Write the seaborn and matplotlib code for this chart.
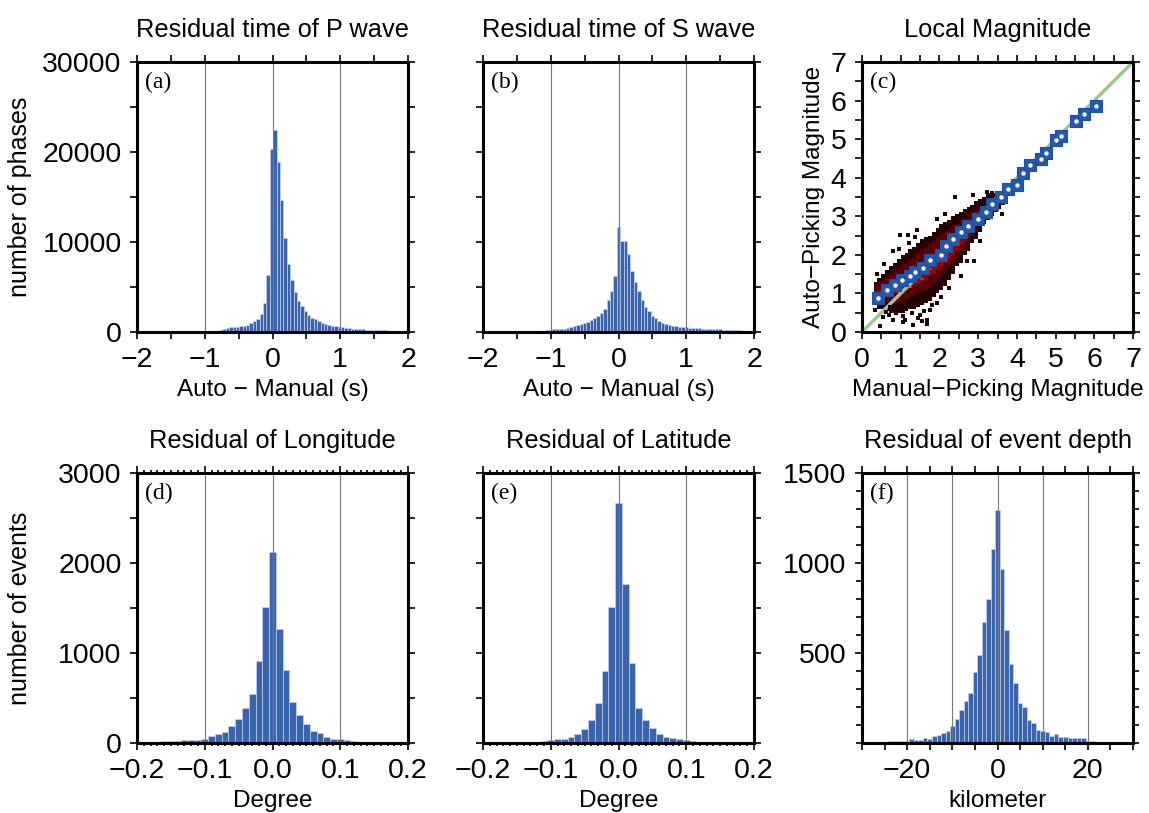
import numpy as np
import pandas as pd
import matplotlib.pyplot as plt
import seaborn as sns
from matplotlib.ticker import MultipleLocator, FixedLocator

# ---- (a) residual time of P wave, bins of 0.05 s
p_edges = -0.04 + 0.05 * np.arange(-20, 41)
p_centers = p_edges[:-1] + 0.025
p_counts = [20, 20, 20, 50, 100, 200, 330, 450, 500, 550,
            600, 630, 700, 800, 1000, 1200, 1400, 2000, 3200, 6300,
            20300, 22400, 18900, 14700, 10400, 7600, 5800, 4400, 3400, 2900,
            2300, 1900, 1600, 1400, 1200, 1000, 900, 800, 700, 630,
            550, 500, 450, 400, 360, 330, 310, 290, 270, 250,
            240, 220, 200, 190, 180, 160, 150, 140, 130, 120]

# ---- (b) residual time of S wave
s_edges = 0.05 * np.arange(-25, 41) - 0.025
s_centers = s_edges[:-1] + 0.025
s_counts = [30, 60, 100, 150, 200, 260, 290, 320, 340, 370,
            450, 600, 680, 800, 900, 1000, 1150, 1300, 1600, 1800,
            2100, 2500, 3500, 4600, 6200,
            11700, 10100, 10100, 8700, 6800, 5600, 4500, 3600, 2800, 2300,
            1800, 1500, 1200, 1000, 900, 780, 700, 630, 590, 550,
            520, 490, 460, 430, 400, 380, 360, 340, 320, 300,
            280, 260, 240, 220, 200, 190, 180, 160, 150, 140]

# ---- (c) local magnitude: binned means
mag_manual = [0.41, 0.65, 0.85, 1.04, 1.24, 1.38, 1.58, 1.75, 2.03, 2.17,
              2.36, 2.56, 2.75, 2.99, 3.20, 3.35, 3.58, 3.78, 4.00, 4.17,
              4.34, 4.63, 4.76, 5.01, 5.15, 5.54, 5.73, 6.05]
mag_auto = [0.89, 1.08, 1.23, 1.35, 1.44, 1.55, 1.66, 1.86, 2.00, 2.24,
            2.42, 2.58, 2.76, 2.93, 3.11, 3.32, 3.49, 3.70, 3.82, 4.12,
            4.34, 4.49, 4.64, 4.98, 5.09, 5.46, 5.65, 5.87]

# density cloud, one column per 0.1 magnitude
cloud_x = [0.3, 0.4, 0.5, 0.6, 0.7, 0.8, 0.9, 1.0, 1.1, 1.2, 1.3, 1.4,
           1.5, 1.6, 1.7, 1.8, 1.9, 2.0, 2.1, 2.2, 2.3, 2.4, 2.5, 2.6,
           2.7, 2.8, 2.9, 3.0, 3.1, 3.2, 3.3, 3.4, 3.5, 3.6]
outer_lo = [0.7, 0.6, 0.6, 0.55, 0.5, 0.5, 0.5, 0.5, 0.55, 0.6, 0.6, 0.65,
            0.7, 0.75, 0.8, 0.9, 1.0, 1.1, 1.2, 1.35, 1.5, 1.7, 1.8, 2.0,
            2.1, 2.3, 2.4, 2.6, 2.8, 2.9, 3.0, 3.1, 3.2, 3.3]
outer_hi = [1.3, 1.4, 1.5, 1.6, 1.7, 1.8, 1.9, 2.0, 2.05, 2.15, 2.2, 2.3,
            2.4, 2.45, 2.5, 2.6, 2.7, 2.8, 2.85, 2.9, 3.0, 3.05, 3.1, 3.2,
            3.25, 3.3, 3.4, 3.45, 3.5, 3.6, 3.65, 3.6, 3.55, 3.5]
dense_lo = [0.8, 0.75, 0.75, 0.75, 0.75, 0.75, 0.75, 0.8, 0.85, 0.9, 0.95, 1.0,
            1.05, 1.1, 1.15, 1.25, 1.35, 1.45, 1.55, 1.7, 1.8, 1.95, 2.1, 2.2,
            2.35, 2.5, 2.6, 2.75, 2.9, 3.0, 3.1, 3.25, 3.3, 3.4]
dense_hi = [1.2, 1.3, 1.35, 1.4, 1.5, 1.55, 1.65, 1.75, 1.8, 1.9, 1.95, 2.05,
            2.15, 2.2, 2.3, 2.35, 2.45, 2.55, 2.6, 2.65, 2.75, 2.8, 2.9, 2.95,
            3.05, 3.1, 3.15, 3.25, 3.3, 3.4, 3.45, 3.5, 3.5, 3.45]
core_lo = [0.85, 0.85, 0.9, 0.9, 0.95, 1.0, 1.0, 1.05, 1.1, 1.15, 1.2, 1.25,
           1.3, 1.35, 1.45, 1.5, 1.6, 1.7, 1.8, 1.9, 2.0, 2.1, 2.25, 2.35,
           2.5, 2.6, 2.75, 9, 9, 9, 9, 9, 9, 9]
core_hi = [1.05, 1.1, 1.15, 1.2, 1.25, 1.3, 1.35, 1.45, 1.5, 1.55, 1.6, 1.7,
           1.75, 1.8, 1.9, 1.95, 2.05, 2.1, 2.2, 2.3, 2.4, 2.5, 2.55, 2.65,
           2.75, 2.85, 2.95, 0, 0, 0, 0, 0, 0, 0]
hot_x = [0.95, 1.15, 1.25, 1.35, 1.45, 1.55, 1.65, 1.75, 1.95, 2.05, 2.25]
hot_y = [1.025, 1.225, 1.175, 1.325, 1.425, 1.375, 1.525, 1.625, 1.825,
         1.925, 2.075]
hot_w = [4.2, 4.2, 4.2, 5.5, 4.2, 4.2, 5.5, 4.2, 4.2, 4.2, 4.2]
stray_x = [2.40, 2.88, 3.61, 2.89, 0.47, 0.80, 1.06, 1.32, 1.54, 1.67, 1.67,
           0.54, 0.89, 1.28, 1.50, 1.75, 1.94, 0.33, 0.72, 0.98, 1.19, 0.79,
           1.41, 1.94, 3.22, 3.48, 1.10, 0.62, 0.40, 0.58, 0.95, 1.22, 1.38,
           1.60, 1.82, 2.05, 2.25, 2.55, 0.70, 1.05, 1.45, 2.70, 3.05, 2.15]
stray_y = [3.51, 3.56, 3.06, 1.83, 0.16, 0.32, 0.41, 0.19, 0.28, 0.22, 0.32,
           0.40, 0.49, 0.49, 0.45, 0.58, 0.75, 0.58, 0.66, 2.52, 2.52, 2.09,
           2.65, 2.93, 3.62, 3.26, 0.30, 0.52, 1.50, 1.75, 2.15, 2.30, 2.45,
           0.55, 0.70, 0.90, 1.15, 1.45, 0.45, 0.25, 0.35, 1.85, 2.35, 3.05]

# ---- (d) longitude, (e) latitude, bins of 0.01 degree
deg_edges = 0.01 * np.arange(-19, 21) - 0.005
deg_centers = deg_edges[:-1] + 0.005
lon_counts = [4, 7, 10, 18, 22, 26, 30, 35, 37, 50, 74, 97, 123, 186, 271, 390,
              550, 913, 1515, 2117, 1266, 810, 457, 316, 215, 130, 111, 67, 45,
              40, 37, 22, 15, 10, 8, 6, 5, 4, 3]
lat_counts = [3, 4, 5, 6, 8, 10, 12, 15, 22, 33, 48, 48, 70, 96, 152, 256,
              448, 804, 1515, 2663, 1767, 893, 393, 256, 167, 96, 70, 59, 48,
              30, 26, 15, 7, 5, 4, 3, 2, 2, 1]

# ---- (f) depth, bins of 1 km
dep_edges = np.arange(-29, 31) - 0.5
dep_centers = dep_edges[:-1] + 0.5
dep_counts = [0, 3, 5, 8, 6, 10, 11, 12, 10, 11, 22, 19, 19, 30, 22, 37, 43,
              56, 65, 93, 135, 181, 231, 278, 394, 491, 670, 802, 1080, 1296,
              967, 630, 437, 333, 222, 200, 130, 111, 74, 69, 61, 41, 50, 33,
              31, 30, 28, 30, 27, 12, 10, 8, 6, 5, 4, 3, 2, 2, 1]

bar_color = '#3b64ae'
edge_color = '#c4d2ec'

sns.set_style('ticks')
plt.rcParams['font.family'] = ['Liberation Sans', 'DejaVu Sans']
plt.rcParams['axes.linewidth'] = 2.0
plt.rcParams['axes.edgecolor'] = 'black'
for key in ['text.color', 'axes.labelcolor', 'xtick.color', 'ytick.color']:
    plt.rcParams[key] = 'black'

fig = plt.figure(figsize=(11.49, 8.13), dpi=100)
W, H = 1149, 813


def add_axes(left, top):
    return fig.add_axes([left / W, 1 - (top + 270) / H, 271 / W, 270 / H])


ax_a = add_axes(137, 62)
ax_b = add_axes(483, 62)
ax_c = add_axes(862, 62)
ax_d = add_axes(137, 473)
ax_e = add_axes(483, 473)
ax_f = add_axes(862, 473)


def hist(ax, centers, counts, edges):
    df = pd.DataFrame({'v': np.asarray(centers, dtype=float),
                       'n': np.asarray(counts, dtype=float)})
    sns.histplot(data=df, x='v', weights='n', bins=[float(e) for e in edges],
                 color=bar_color, edgecolor=edge_color, linewidth=0.5,
                 alpha=1, ax=ax)


def frame(ax, title, tag, xlabel, ylabel, ylab_x, grid):
    ax.set_title(title, fontsize=18.3, pad=18)
    ax.text(0.03, 0.965, tag, transform=ax.transAxes, ha='left', va='top',
            fontsize=17, family='Liberation Serif')
    ax.set_xlabel(xlabel, fontsize=17.5)
    ax.xaxis.set_label_coords(0.5, -0.175)
    ax.set_ylabel(ylabel, fontsize=18)
    if ylabel:
        ax.yaxis.set_label_coords(ylab_x, 0.5)
    for g in grid:
        ax.axvline(g, color='#777777', lw=0.8, zorder=3)
    ax.tick_params(which='both', direction='out', top=True, right=True,
                   width=1.2, labelsize=20.5, pad=6, color='black')
    ax.tick_params(which='major', length=5)
    ax.tick_params(which='minor', length=5)
    for s in ax.spines.values():
        s.set_linewidth(2.2)
        s.set_zorder(5)


# (a)
hist(ax_a, p_centers, p_counts, p_edges)
ax_a.set_xlim(-2, 2)
ax_a.set_ylim(0, 30000)
ax_a.xaxis.set_major_locator(MultipleLocator(1))
ax_a.xaxis.set_minor_locator(MultipleLocator(0.5))
ax_a.yaxis.set_major_locator(MultipleLocator(10000))
ax_a.yaxis.set_minor_locator(MultipleLocator(5000))
frame(ax_a, 'Residual time of P wave', '(a)', 'Auto \u2212 Manual (s)',
      'number of phases', -0.387, [-1, 0, 1])

# (b)
hist(ax_b, s_centers, s_counts, s_edges)
ax_b.set_xlim(-2, 2)
ax_b.set_ylim(0, 30000)
ax_b.xaxis.set_major_locator(MultipleLocator(1))
ax_b.xaxis.set_minor_locator(MultipleLocator(0.5))
ax_b.yaxis.set_major_locator(MultipleLocator(10000))
ax_b.yaxis.set_minor_locator(MultipleLocator(5000))
ax_b.set_yticklabels([])
frame(ax_b, 'Residual time of S wave', '(b)', 'Auto \u2212 Manual (s)',
      '', 0, [-1, 0, 1])

# (c)
y_centers = np.round(np.arange(0.025, 4.0, 0.05), 3)
cells = {}
for i, x0 in enumerate(cloud_x):
    for yc in y_centers:
        w = 0
        if outer_lo[i] <= yc <= outer_hi[i]:
            w = 0.4
        if dense_lo[i] <= yc <= dense_hi[i]:
            w = 1.2
        if core_lo[i] <= yc <= core_hi[i]:
            w = 2.2
        if w > 0:
            cells[(round(x0 + 0.05, 2), yc)] = w
for hx, hy, hw in zip(hot_x, hot_y, hot_w):
    cells[(hx, hy)] = hw
cloud = pd.DataFrame([(k[0], k[1], v) for k, v in cells.items()],
                     columns=['x', 'y', 'w'])
sns.histplot(data=cloud, x='x', y='y', weights='w',
             bins=[list(np.round(np.arange(0.3, 3.75, 0.1), 2)),
                   list(np.round(np.arange(0.0, 4.025, 0.05), 3))],
             cmap='hot', vmin=0, vmax=10, ax=ax_c, zorder=1)
sns.lineplot(x=[0, 7], y=[0, 7], color='#9cc78e', lw=2.5, ax=ax_c, zorder=2)
sns.scatterplot(x=stray_x, y=stray_y, color='#1a0500', marker='s', s=5,
                linewidth=0, ax=ax_c, zorder=2)
sns.scatterplot(x=mag_manual, y=mag_auto, color='#2458ad', marker='s', s=85,
                edgecolor='#1f4f9e', linewidth=0.8, ax=ax_c, zorder=4)
sns.scatterplot(x=mag_manual, y=mag_auto, color='white', marker='o', s=10,
                linewidth=0, ax=ax_c, zorder=5)
ax_c.set_xlim(0, 7)
ax_c.set_ylim(0, 7)
for axis in (ax_c.xaxis, ax_c.yaxis):
    axis.set_major_locator(MultipleLocator(1))
    axis.set_minor_locator(MultipleLocator(0.5))
frame(ax_c, 'Local Magnitude', '(c)', 'Manual\u2212Picking Magnitude',
      'Auto\u2212Picking Magnitude', -0.137, [])
ax_c.set_ylabel('Auto\u2212Picking Magnitude', fontsize=17.5)

# (d), (e)
for ax, counts, title, tag, ylab in [
        (ax_d, lon_counts, 'Residual of Longitude', '(d)', 'number of events'),
        (ax_e, lat_counts, 'Residual of Latitude', '(e)', '')]:
    hist(ax, deg_centers, counts, deg_edges)
    ax.set_xlim(-0.2, 0.2)
    ax.set_ylim(0, 3000)
    ax.xaxis.set_major_locator(MultipleLocator(0.1))
    ax.xaxis.set_minor_locator(MultipleLocator(0.01))
    ax.yaxis.set_major_locator(MultipleLocator(1000))
    ax.yaxis.set_minor_locator(MultipleLocator(500))
    if not ylab:
        ax.set_yticklabels([])
    frame(ax, title, tag, 'Degree', ylab, -0.387, [-0.1, 0, 0.1])
    ax.xaxis.set_tick_params(which='minor', length=2.5)

# (f)
hist(ax_f, dep_centers, dep_counts, dep_edges)
ax_f.set_xlim(-30, 30)
ax_f.set_ylim(0, 1500)
ax_f.xaxis.set_major_locator(MultipleLocator(20))
ax_f.xaxis.set_minor_locator(MultipleLocator(5))
ax_f.yaxis.set_major_locator(FixedLocator([500, 1000, 1500]))
ax_f.yaxis.set_minor_locator(MultipleLocator(100))
frame(ax_f, 'Residual of event depth', '(f)', 'kilometer', '', 0,
      [-20, -10, 0, 10, 20])
ax_f.yaxis.set_tick_params(which='minor', length=4)

fig.savefig('out.png', dpi=100)
